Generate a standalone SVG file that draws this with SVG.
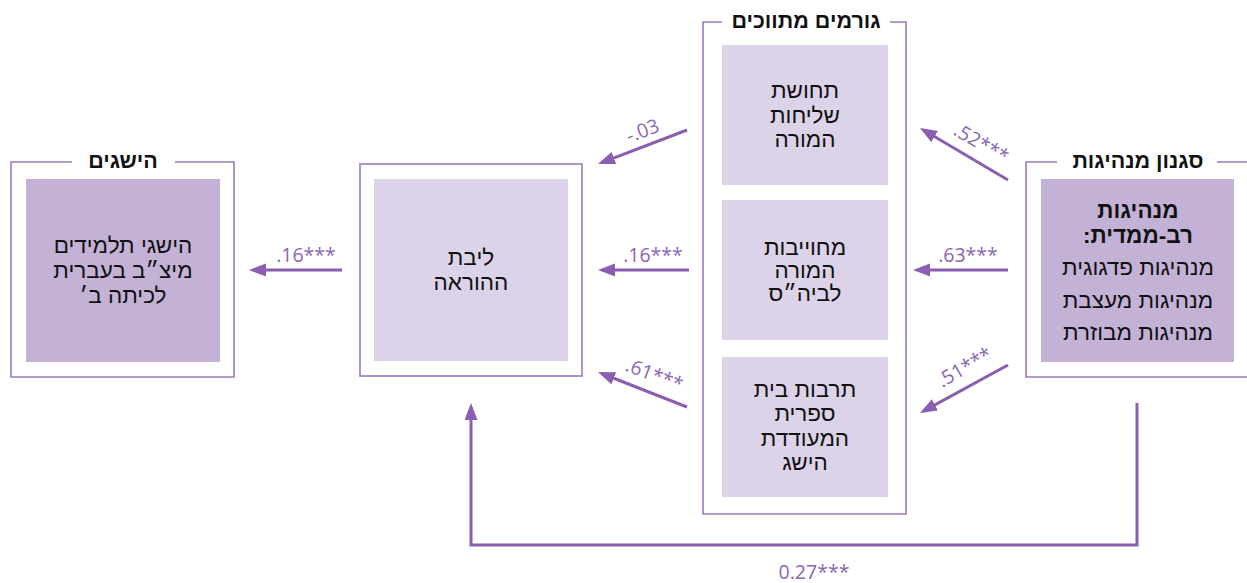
<svg xmlns="http://www.w3.org/2000/svg" width="1247" height="583" viewBox="0 0 1247 583">
<style>
.frame{fill:none;stroke:#9b7bbf;stroke-width:1.6}
.dark{fill:#c4b1d6}
.light{fill:#dcd3e9}
.title{font-family:"Liberation Sans","DejaVu Sans",sans-serif;font-weight:bold;font-size:21.5px;fill:#111;text-anchor:middle}
.txt{font-family:"Liberation Sans","DejaVu Sans",sans-serif;font-size:22.5px;fill:#111;text-anchor:middle}
.bold{font-weight:bold}
.conn{fill:none;stroke:#8a5fb1;stroke-width:3}
.lbl{font-family:"Open Sans","DejaVu Sans",sans-serif;font-size:19.5px;fill:#8a66b5;text-anchor:middle}
</style>
<defs>
<marker id="ah" markerUnits="userSpaceOnUse" markerWidth="18" markerHeight="14" refX="13" refY="6.5" orient="auto">
<path d="M0,0 L17,6.5 L0,13 z" fill="#8a5fb1"/>
</marker>
</defs>
<rect width="1247" height="583" fill="#fff"/>

<g id="achievements">
<path class="frame" d="M72,162 H11 V377 H234 V162 H175"/>
<text class="title" x="123" y="168" direction="rtl">הישגים</text>
<rect class="dark" x="26" y="179" width="194" height="183"/>
<text class="txt" x="123" y="253" direction="rtl">הישגי תלמידים</text>
<text class="txt" x="123" y="278" direction="rtl">מיצ״ב בעברית</text>
<text class="txt" x="123" y="303" direction="rtl">לכיתה ב׳</text>
</g>

<g id="teaching">
<rect class="frame" x="360" y="164" width="222" height="212"/>
<rect class="light" x="374" y="179" width="194" height="182"/>
<text class="txt" x="471" y="265" direction="rtl">ליבת</text>
<text class="txt" x="471" y="290" direction="rtl">ההוראה</text>
</g>

<g id="mediators">
<path class="frame" d="M722,22 H703 V514 H906 V22 H890"/>
<text class="title" x="806" y="28" direction="rtl">גורמים מתווכים</text>
<g id="mission">
<rect class="light" x="722" y="45" width="166" height="140"/>
<text class="txt" x="805" y="98" direction="rtl">תחושת</text>
<text class="txt" x="805" y="123" direction="rtl">שליחות</text>
<text class="txt" x="805" y="147" direction="rtl">המורה</text>
</g>
<g id="commitment">
<rect class="light" x="722" y="200" width="166" height="140"/>
<text class="txt" x="805" y="255" direction="rtl">מחוייבות</text>
<text class="txt" x="805" y="278" direction="rtl">המורה</text>
<text class="txt" x="805" y="301" direction="rtl">לביה״ס</text>
</g>
<g id="culture">
<rect class="light" x="722" y="357" width="166" height="140"/>
<text class="txt" x="805" y="397" direction="rtl">תרבות בית</text>
<text class="txt" x="805" y="421" direction="rtl">ספרית</text>
<text class="txt" x="805" y="446" direction="rtl">המעודדת</text>
<text class="txt" x="805" y="470" direction="rtl">הישג</text>
</g>
</g>

<g id="leadership">
<path class="frame" d="M1057,162 H1026 V377 H1250 M1217,162 H1250"/>
<text class="title" x="1138" y="168" direction="rtl">סגנון מנהיגות</text>
<rect class="dark" x="1041" y="179" width="193" height="183"/>
<text class="txt bold" x="1138" y="218" direction="rtl">מנהיגות</text>
<text class="txt bold" x="1138" y="243" direction="rtl">רב-ממדית:</text>
<text class="txt" x="1138" y="275" direction="rtl">מנהיגות פדגוגית</text>
<text class="txt" x="1138" y="308" direction="rtl">מנהיגות מעצבת</text>
<text class="txt" x="1138" y="340" direction="rtl">מנהיגות מבוזרת</text>
</g>

<g id="connectors">
<line class="conn" x1="1008" y1="180" x2="923.4" y2="130" marker-end="url(#ah)"/>
<line class="conn" x1="1008" y1="270" x2="917" y2="270" marker-end="url(#ah)"/>
<line class="conn" x1="1008" y1="365" x2="923.5" y2="411.1" marker-end="url(#ah)"/>
<line class="conn" x1="687" y1="130" x2="601.7" y2="162.6" marker-end="url(#ah)"/>
<line class="conn" x1="689" y1="270" x2="602" y2="270" marker-end="url(#ah)"/>
<line class="conn" x1="687" y1="407" x2="601.7" y2="373.5" marker-end="url(#ah)"/>
<line class="conn" x1="342" y1="270" x2="253" y2="270" marker-end="url(#ah)"/>
<path class="conn" d="M1137,403 V545 H471 V407" marker-end="url(#ah)"/>

<text class="lbl" transform="translate(978,149) rotate(30)">.52***</text>
<text class="lbl" x="968" y="262">.63***</text>
<text class="lbl" transform="translate(968,373) rotate(-30)">.51***</text>
<text class="lbl" transform="translate(645,137) rotate(-21)">-.03</text>
<text class="lbl" x="653" y="262">.16***</text>
<text class="lbl" transform="translate(652,381) rotate(21)">.61***</text>
<text class="lbl" x="306" y="262">.16***</text>
<text class="lbl" x="814" y="579">0.27***</text>
</g>
</svg>
